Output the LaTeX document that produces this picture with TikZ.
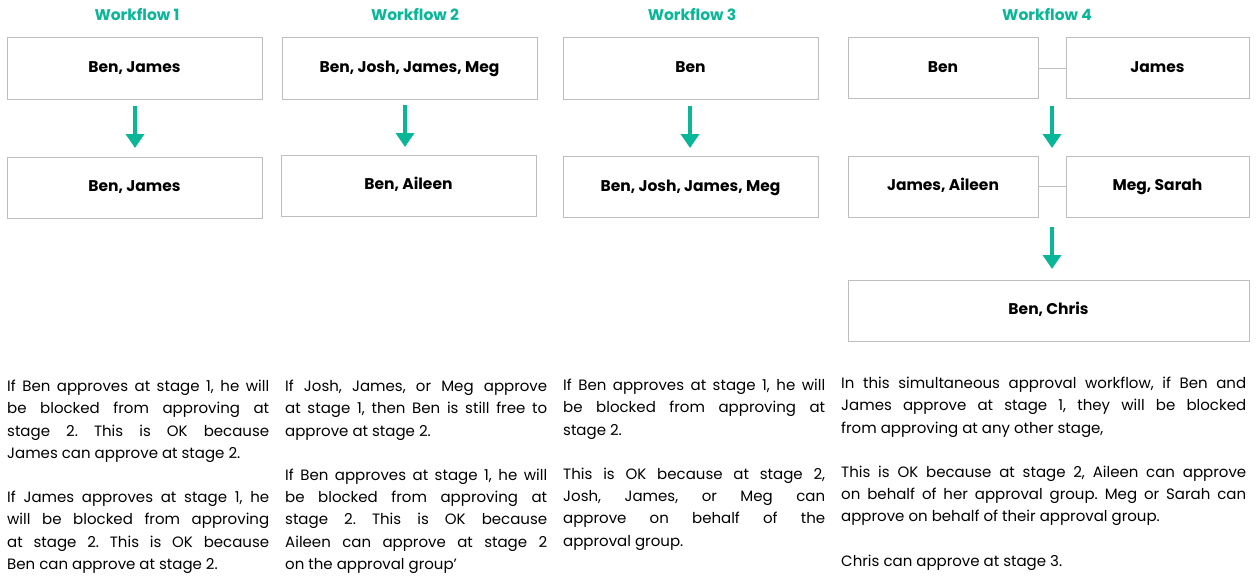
\documentclass[tikz,border=0pt]{standalone}
\usepackage{fontspec}
\setmainfont{Poppins}
\usetikzlibrary{arrows.meta}
\definecolor{teal}{RGB}{10, 182, 152}
\definecolor{boxgray}{RGB}{190, 190, 190}
\newcommand\nohyph{\hyphenpenalty=10000\relax\exhyphenpenalty=10000\relax\frenchspacing\hbadness=10000\relax}

\tikzset{
  person/.style={rectangle, draw=boxgray, line width=1pt, font=\fontsize{15.5}{18}\selectfont\bfseries, inner sep=0pt, text height=11pt, text depth=3pt},
  title/.style={font=\fontsize{15.5}{18}\selectfont\bfseries, text=teal},
  flow/.style={-{Triangle[width=18pt,length=14pt]}, line width=4.5pt, teal},
  note/.style={anchor=north west, text width=262pt, align=justify, inner sep=0pt, font=\fontsize{15}{22.2}\selectfont, execute at begin node=\nohyph}
}

\begin{document}
\begin{tikzpicture}[x=1pt, y=-1pt]
        \useasboundingbox (0,0) rectangle (1257,578);

        % Titles
        \node[title] (t1) at (137,14) {Workflow 1};
        \node[title] (t2) at (415,14) {Workflow 2};
        \node[title] (t3) at (692,14) {Workflow 3};
        \node[title] (t4) at (1047,14) {Workflow 4};

        % Workflow 1
        \node[person, minimum width=255pt, minimum height=61pt] (a1) at (134.5,68.5) {Ben, James};
        \node[person, minimum width=255pt, minimum height=61pt] (a2) at (134.5,187.5) {Ben, James};
        \draw[flow] (135,106) -- (135,148);

        % Workflow 2
        \node[person, minimum width=255pt, minimum height=61pt] (b1) at (409.5,68.5) {Ben, Josh, James, Meg};
        \node[person, minimum width=255pt, minimum height=61pt] (b2) at (408.5,185.5) {Ben, Aileen};
        \draw[flow] (405,105) -- (405,147);

        % Workflow 3
        \node[person, minimum width=255pt, minimum height=61pt] (c1) at (690.5,68.5) {Ben};
        \node[person, minimum width=255pt, minimum height=61pt] (c2) at (690.5,187) {Ben, Josh, James, Meg};
        \draw[flow] (690,106) -- (690,148);

        % Workflow 4
        \node[person, minimum width=190pt, minimum height=60pt] (d1) at (943,68) {Ben};
        \node[person, minimum width=183pt, minimum height=60pt] (d2) at (1157.5,68) {James};
        \node[person, minimum width=190pt, minimum height=61pt] (d3) at (943,186.5) {James, Aileen};
        \node[person, minimum width=183pt, minimum height=61pt] (d4) at (1157.5,186.5) {Meg, Sarah};
        \node[person, minimum width=401pt, minimum height=61pt] (d5) at (1048.5,310.5) {Ben, Chris};
        \draw[boxgray, line width=1pt] (d1) -- (d2);
        \draw[boxgray, line width=1pt] (d3) -- (d4);
        \draw[flow] (1052,106) -- (1052,148);
        \draw[flow] (1052,227) -- (1052,269);

        % Notes
        \node[note] (n1) at (7,380) {If Ben approves at stage 1, he will\linebreak be blocked from approving at\linebreak stage 2. This is OK because\linebreak James can approve at stage 2.\par\vspace{22.2pt}If James approves at stage 1, he\linebreak will be blocked from approving\linebreak at stage 2. This is OK because\linebreak Ben can approve at stage 2.};
        \node[note] (n2) at (285,380) {If Josh, James, or Meg approve\linebreak at stage 1, then Ben is still free to\linebreak approve at stage 2.\par\vspace{22.2pt}If Ben approves at stage 1, he will\linebreak be blocked from approving at\linebreak stage 2. This is OK because\linebreak Aileen can approve at stage 2\linebreak on the approval group'};
        \node[note] (n3) at (563,379) {If Ben approves at stage 1, he will\linebreak be blocked from approving at\linebreak stage 2.\par\vspace{22.2pt}This is OK because at stage 2,\linebreak Josh, James, or Meg can\linebreak approve on behalf of the\linebreak approval group.};
        \node[note, text width=405pt] (n4) at (841,377) {In this simultaneous approval workflow, if Ben and\linebreak James approve at stage 1, they will be blocked\linebreak from approving at any other stage,\par\vspace{22.2pt}This is OK because at stage 2, Aileen can approve\linebreak on behalf of her approval group. Meg or Sarah can\linebreak approve on behalf of their approval group.\par\vspace{22.2pt}Chris can approve at stage 3.};
\end{tikzpicture}
\end{document}
